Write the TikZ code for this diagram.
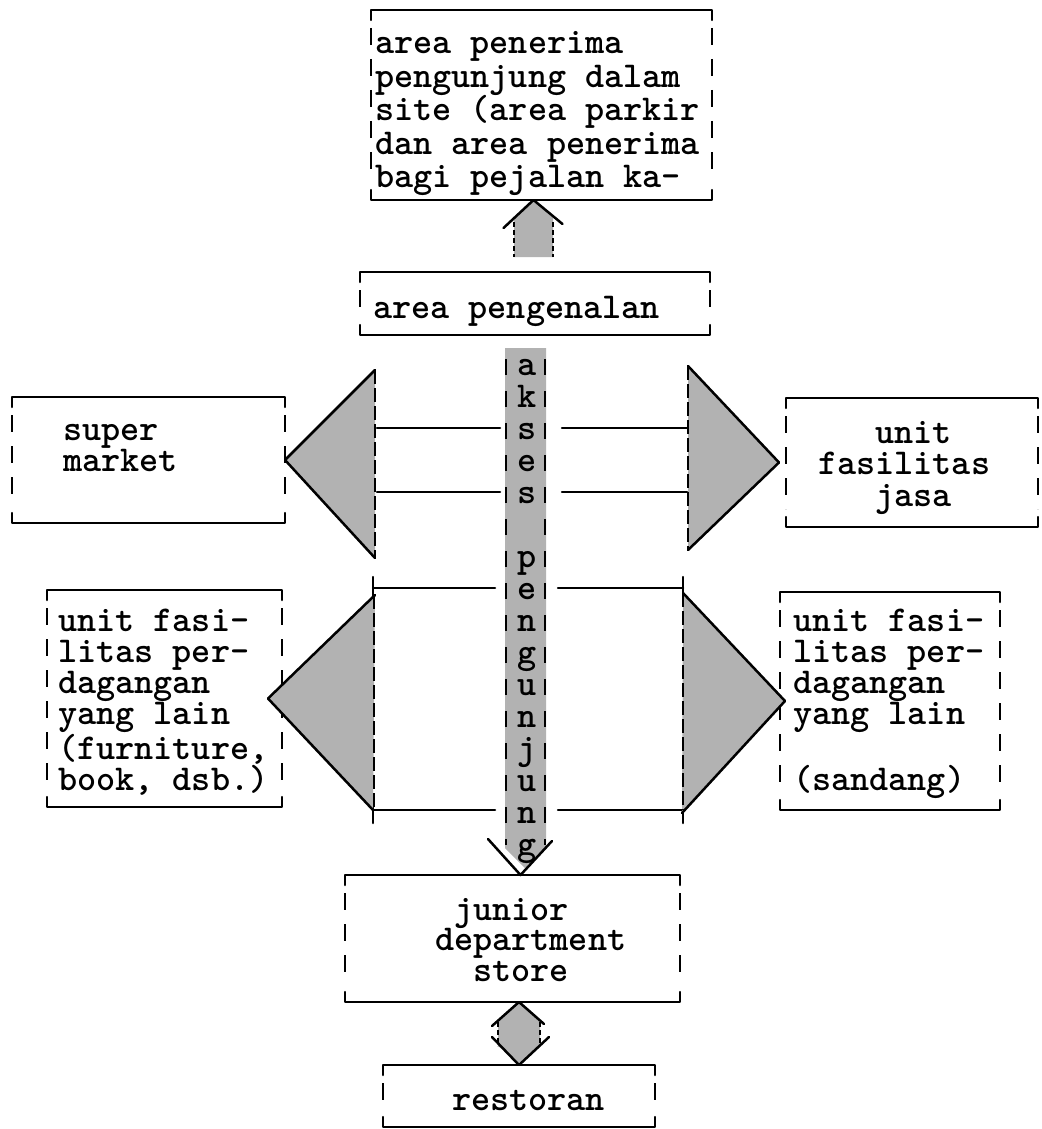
\documentclass[tikz,border=0pt]{standalone}
\usetikzlibrary{fit,calc}
\tikzset{
  ln/.style={line width=2.5pt, line cap=round, line join=round},
  sideln/.style={line width=2.5pt, dash pattern=on 17pt off 14pt},
  edgeln/.style={line width=2.5pt, dash pattern=on 14pt off 4pt},
  thinedge/.style={line width=1.8pt, dash pattern=on 5pt off 3pt},
  frame/.style={inner sep=0pt, outer sep=0pt, rectangle},
  txt/.style={font=\fontsize{36.4}{#1pt}\selectfont\ttfamily\bfseries, inner sep=0pt, anchor=base west, align=left},
  txt/.default=31,
  shade/.style={fill=black!30}
}
\begin{document}
\begin{tikzpicture}[x=1pt,y=-1pt]
\useasboundingbox (0,0) rectangle (1041,1129);
\fill[white] (0,0) rectangle (1041,1129);

% ---------- boxes ----------
\node[frame, fit={(371,10) (712,200)}] (top) {};
\node[frame, fit={(360,272) (710,335)}] (intro) {};
\node[frame, fit={(12,397) (285,523)}] (super) {};
\node[frame, fit={(786,398) (1038,527)}] (jasa) {};
\node[frame, fit={(47,590) (282,807)}] (dagl) {};
\node[frame, fit={(780,592) (1000,810)}] (dagr) {};
\node[frame, fit={(345,875) (680,1002)}] (junior) {};
\node[frame, fit={(383,1065) (655,1127)}] (resto) {};

\foreach \b in {top,intro,super,jasa,dagl,dagr,junior,resto}{
  \draw[ln] ([yshift=-10pt]\b.north west) -- (\b.north west) -- (\b.north east) -- ([yshift=-10pt]\b.north east);
  \draw[ln] ([yshift=10pt]\b.south west) -- (\b.south west) -- (\b.south east) -- ([yshift=10pt]\b.south east);
  \draw[sideln] ([yshift=-18pt]\b.north west) -- ([yshift=18pt]\b.south west);
  \draw[sideln] ([yshift=-18pt]\b.north east) -- ([yshift=18pt]\b.south east);
}

% ---------- texts (anchor = baseline of last line) ----------
\node[txt=33.5] (toptext) at (375,187.5) {area penerima\\pengunjung dalam\\site (area parkir\\dan area penerima\\bagi pejalan ka-};
\node[txt] (introtext) at (373,318) {area pengenalan};
\node[txt] (supertext) at (63,471) {super\\market};
\node[txt=31.5] (jasatext) at (818,506) {\phantom{fas}unit\\fasilitas\\\phantom{fas}jasa};
\node[txt] (dagltext) at (58,790) {unit fasi-\\litas per-\\dagangan\\yang lain\\(furniture,\\book, dsb.)};
\node[txt] (dagrtext) at (793,790) {unit fasi-\\litas per-\\dagangan\\yang lain\\[31pt](sandang)};
\node[txt=30.5] (juniortext) at (435,981) {\phantom{d}junior\\department\\\phantom{de}store};
\node[txt] (restotext) at (452,1110) {restoran};

% ---------- up arrow: area pengenalan -> area penerima ----------
\coordinate (ua) at ([xshift=-8pt]top.south);
\fill[shade] (ua) ++(-19.5,18) -- (ua) -- ++(19.5,18) -- ++(0,39) -- ++(-39,0) -- cycle;
\draw[thinedge] (514,222) -- (514,257);
\draw[thinedge] (553,222) -- (553,257);
\draw[ln] (ua) ++(-30,28) -- (ua) -- ++(29,24);

% ---------- vertical strip: akses pengunjung ----------
\fill[shade] (505,348) -- (546,348) -- (546,847) -- (525,868) -- (505,848) -- cycle;
\draw[line width=2.2pt, dash pattern=on 16pt off 16pt] (506,359) -- (506,845);
\draw[line width=2.2pt, dash pattern=on 16pt off 16pt] (545,359) -- (545,845);
\node[font=\fontsize{36.4}{32pt}\selectfont\ttfamily\bfseries, align=center, anchor=base, inner sep=0pt] (strip) at (527,855)
  {a\\k\\s\\e\\s\\[32pt]p\\e\\n\\g\\u\\n\\j\\u\\n\\g};
\coordinate (da) at ([xshift=8pt]junior.north);
\draw[ln] (da) ++(-32.5,-36) -- (da) -- ++(31.5,-34);

% ---------- upper triangles ----------
\fill[shade] (super.east) -- (375,370) -- (375,558) -- cycle;
\draw[ln] (375,370) -- (super.east) -- (375,558);
\draw[edgeln] (375,370) -- (375,558);

\coordinate (ra) at ([xshift=-7pt]jasa.west);
\fill[shade] (688,366) -- (ra) -- (688,550) -- cycle;
\draw[ln] (688,366) -- (ra) -- (688,550);
\draw[edgeln] (688,366) -- (688,550);

\draw[ln] (377,428) -- (500,428);
\draw[ln] (562,428) -- (687,428);
\draw[ln] (377,492) -- (500,492);
\draw[ln] (562,492) -- (687,492);

% ---------- lower triangles ----------
\draw[ln] (373,588) -- (495,588);
\draw[ln] (558,588) -- (683,588);
\draw[ln] (373,810) -- (495,810);
\draw[ln] (558,810) -- (683,810);
\draw[ln] (373,577) -- (373,597);
\draw[ln] (373,803) -- (373,823);
\draw[ln] (683,577) -- (683,597);
\draw[ln] (683,803) -- (683,823);

\coordinate (la) at ([xshift=-14pt]dagl.east);
\fill[shade] (375,595) -- (la) -- (373,810) -- cycle;
\draw[ln] (375,595) -- (la) -- (373,810);
\draw[edgeln] (374,595) -- (374,810);

\coordinate (rb) at ([xshift=5pt]dagr.west);
\fill[shade] (683,593) -- (rb) -- (682,813) -- cycle;
\draw[ln] (683,593) -- (rb) -- (682,813);
\draw[edgeln] (683,593) -- (683,810);

% ---------- double arrow: junior department store <-> restoran ----------
\coordinate (b1) at (junior.south -| resto.north);
\coordinate (b2) at (resto.north);
\fill[shade] (b1) -- ++(-21,20) -- ++(0,24) -- ([yshift=2pt]b2) -- ++(21,-17) -- ++(0,-24) -- cycle;
\draw[thinedge] (498,1022) -- (498,1046);
\draw[thinedge] (540,1022) -- (540,1046);
\draw[ln] (b1) ++(-27,24) -- (b1) -- ++(25,22);
\draw[ln] (b2) ++(-27,-28) -- (b2) -- ++(30,-28);
\end{tikzpicture}
\end{document}
